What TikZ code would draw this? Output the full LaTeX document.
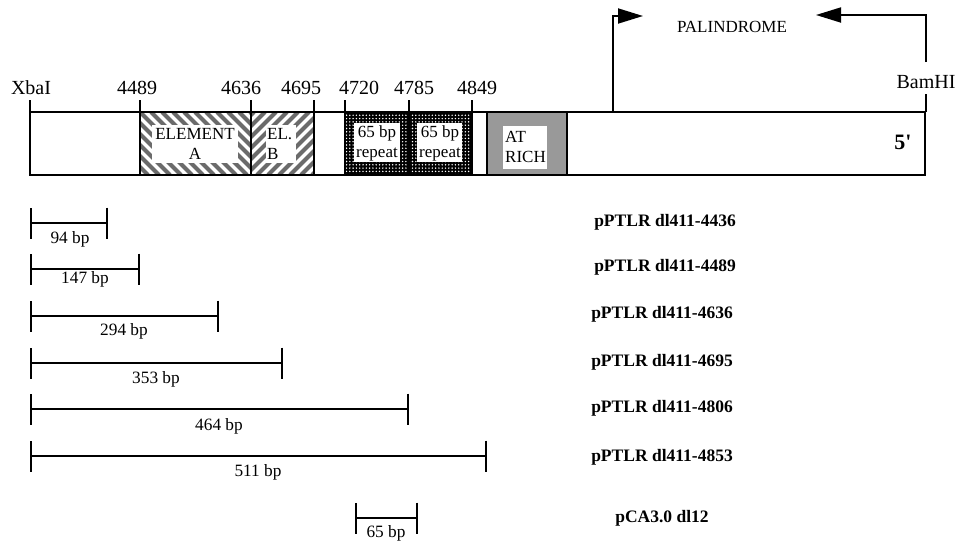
\documentclass[tikz,border=0pt]{standalone}
\usepackage{fontspec}
\setmainfont{Liberation Serif}
\usetikzlibrary{arrows.meta,patterns}
\pgfdeclarepatternformonly{bigdots}{\pgfqpoint{-1pt}{-1pt}}{\pgfqpoint{1pt}{1pt}}{\pgfqpoint{3.3pt}{3.3pt}}{%
  \pgfpathcircle{\pgfqpoint{0pt}{0pt}}{0.8pt}\pgfusepath{fill}}
\begin{document}
\begin{tikzpicture}[x=1pt,y=-1pt,
  frame/.style={line width=1.8pt},
  stripe/.style={line width=4.2pt, black!58},
  toplbl/.style={font=\fontsize{20}{22}\selectfont, inner sep=0pt},
  innerlbl/.style={font=\fontsize{17}{20}\selectfont, inner sep=0pt, align=center},
  innerleft/.style={font=\fontsize{17}{20}\selectfont, inner sep=0pt, align=left, anchor=west},
  bplbl/.style={font=\fontsize{17.3}{19}\selectfont, inner sep=0pt},
  namelbl/.style={font=\bfseries\fontsize{17.5}{19}\selectfont, inner sep=0pt},
  barline/.style={line width=1.8pt, {Bar[width=31pt,line width=1.8pt]}-{Bar[width=31pt,line width=1.8pt]}},
  palarrow/.style={line width=1.8pt, -{Triangle[length=25pt,width=15pt]}}
]
\useasboundingbox (0,0) rectangle (956,541);

% ---- Element A (hatched \) ----
\begin{scope}
  \clip (140,112) rectangle (251,175);
  \foreach \a in {-80,-69,...,260} \draw[stripe] (\a,112) -- ++(63,63);
\end{scope}
\fill[white] (152,125) rectangle (238,163);
\node[innerlbl] (elA) at (195,144) {ELEMENT\\A};

% ---- Element B (hatched /) ----
\begin{scope}
  \clip (251,112) rectangle (314,175);
  \foreach \a in {180,191,...,390} \draw[stripe] (\a,175) -- ++(63,-63);
\end{scope}
\fill[white] (266,125) rectangle (296,163);
\node[innerleft] (elB) at (267,144) {EL.\\B};

% ---- 65 bp repeats (black with white dots) ----
\fill[black] (345,112) rectangle (472,175);
\fill[pattern=bigdots, pattern color=white] (345,112) rectangle (472,175);
\fill[white] (354,123) rectangle (400,162);
\fill[white] (417,123) rectangle (462,162);
\node[innerlbl] (rep1) at (377,143) {65 bp\\repeat};
\node[innerlbl] (rep2) at (440,143) {65 bp\\repeat};

% ---- AT rich ----
\fill[black!40] (487,112) rectangle (567,175);
\fill[white] (503,126) rectangle (547,169);
\node[innerleft] (atr) at (505,147) {AT\\RICH};

% ---- main frame ----
\draw[frame] (30,112) rectangle (925,175);
\draw[frame] (140,112) rectangle (314,175);
\draw[frame] (251,112) -- (251,175);
\draw[frame] (345,112) rectangle (472,175);
\draw[frame] (409,112) -- (409,175);
\draw[frame] (472,112) rectangle (487,175);
\draw[frame] (487,112) rectangle (567,175);

% ---- position ticks and labels ----
\foreach \x/\lx/\t [count=\i] in {30/31/XbaI,140/137/4489,251/241/4636,314/301/4695,345/359/4720,409/414/4785,472/477/4849}{
  \draw[frame] (\x,100) -- (\x,112);
  \node[toplbl] (pos\i) at (\lx,88) {\t};
}

% ---- BamHI and palindrome ----
\node[toplbl] (bam) at (926,82) {BamHI};
\coordinate (bt0) at (926,112);
\coordinate (bt1) at (926,94);
\draw[frame] (bt0) -- (bt1);
\coordinate (pl0) at (613,112);
\coordinate (pl1) at (613,16);
\coordinate (pl2) at (643,16);
\draw[palarrow] (pl0) -- (pl1) -- (pl2);
\coordinate (pr0) at (926,62);
\coordinate (pr1) at (926,15);
\coordinate (pr2) at (816,15);
\draw[palarrow] (pr0) -- (pr1) -- (pr2);
\node[font=\fontsize{17}{19}\selectfont, inner sep=0pt] (pal) at (732,27) {PALINDROME};

\node[font=\bfseries\fontsize{22}{24}\selectfont, inner sep=0pt] (five) at (903,142) {5\textquotesingle};

% ---- deletion bars ----
\foreach \y/\xr [count=\i] in {223/108, 269/140, 316/219, 363/283, 409/409, 456/487}{
  \coordinate (dA\i) at (30,\y);
  \coordinate (dB\i) at (\xr,\y);
  \draw[barline] (dA\i) -- (dB\i);
}
\node[bplbl] (b1) at (70,239) {94 bp};
\node[bplbl] (b2) at (85,279) {147 bp};
\node[bplbl] (b3) at (124,331) {294 bp};
\node[bplbl] (b4) at (156,379) {353 bp};
\node[bplbl] (b5) at (219,426) {464 bp};
\node[bplbl] (b6) at (258,472) {511 bp};

\coordinate (dA7) at (355,518);
\coordinate (dB7) at (418,518);
\draw[barline] (dA7) -- (dB7);
\node[bplbl] (b7) at (386,533) {65 bp};

\node[namelbl] (n1) at (665,222) {pPTLR dl411-4436};
\node[namelbl] (n2) at (665,267) {pPTLR dl411-4489};
\node[namelbl] (n3) at (662,314) {pPTLR dl411-4636};
\node[namelbl] (n4) at (662,362) {pPTLR dl411-4695};
\node[namelbl] (n5) at (662,408) {pPTLR dl411-4806};
\node[namelbl] (n6) at (662,457) {pPTLR dl411-4853};
\node[namelbl] (n7) at (662,518) {pCA3.0 dl12};
\end{tikzpicture}
\end{document}
